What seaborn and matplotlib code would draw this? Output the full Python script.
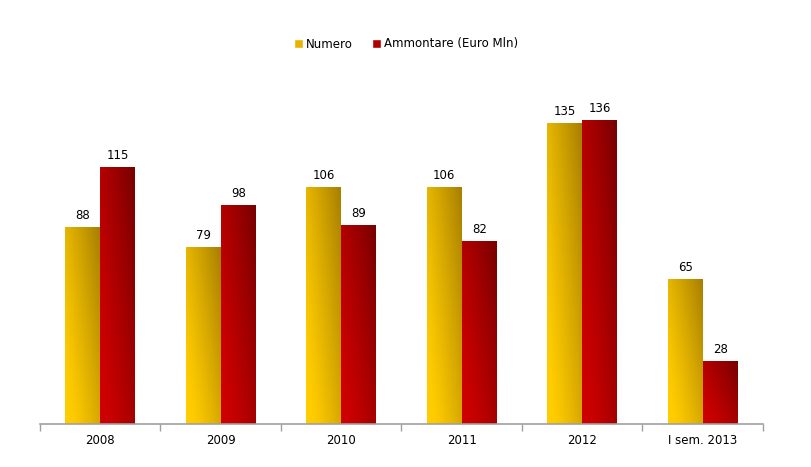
import numpy as np
import pandas as pd
import matplotlib
matplotlib.use("Agg")
import matplotlib.pyplot as plt
import seaborn as sns
from matplotlib.patches import Rectangle
from matplotlib.colors import to_rgb

categories = ["2008", "2009", "2010", "2011", "2012", "I sem. 2013"]
numero = [88, 79, 106, 106, 135, 65]
ammontare = [115, 98, 89, 82, 136, 28]
series_names = ["Numero", "Ammontare (Euro Mln)"]

sns.set_theme(style="white")
plt.rcParams['font.family'] = ['DejaVu Sans']

df = pd.DataFrame({
    "cat": categories * 2,
    "val": numero + ammontare,
    "serie": [series_names[0]] * len(categories) + [series_names[1]] * len(categories),
})

light = {series_names[0]: to_rgb("#FFCC00"), series_names[1]: to_rgb("#CC0000")}
dark = {series_names[0]: to_rgb("#A07800"), series_names[1]: to_rgb("#700000")}

fig = plt.figure(figsize=(8.12, 4.67), dpi=100)
ax = fig.add_axes([40/812, 43/467, 723/812, (424-80)/467])

sns.barplot(data=df, x="cat", y="val", hue="serie", order=categories,
            hue_order=series_names, palette=[light[s] for s in series_names],
            width=0.58, gap=0, ax=ax, legend=False, saturation=1)

# gradient fill for each bar (light bottom-left to dark top-right)
nx, ny = 40, 80
u = np.linspace(0, 1, nx)[None, :]
v = np.linspace(0, 1, ny)[:, None]
t = np.clip(0.6 * u + 0.45 * v - 0.12, 0, 1) ** 1.2
for container, s in zip(ax.containers, series_names):
    for bar in container:
        x0, y0 = bar.get_x(), bar.get_y()
        w, h = bar.get_width(), bar.get_height()
        lc, dc = np.array(light[s]), np.array(dark[s])
        img = lc[None, None, :] * (1 - t[..., None]) + dc[None, None, :] * t[..., None]
        bar.set_facecolor("none")
        bar.set_edgecolor("none")
        ax.imshow(img, extent=(x0, x0 + w, y0, y0 + h), origin="lower",
                  aspect="auto", interpolation="bilinear", zorder=2)
        ax.annotate(f"{int(round(h))}", (x0 + w / 2, y0 + h), xytext=(0, 4),
                    textcoords="offset points", ha="center", va="bottom",
                    fontsize=8.5, color="#000000")

ax.set_xlim(-0.5, len(categories) - 0.5)
ax.set_ylim(0, 154.4)

for side in ["top", "right", "left"]:
    ax.spines[side].set_visible(False)
ax.spines["bottom"].set_color("#A0A0A0")
ax.spines["bottom"].set_linewidth(1.2)
ax.set_yticks([])
ax.set_xlabel("")
ax.set_ylabel("")
ax.tick_params(axis="x", length=0, labelsize=8.5, pad=7, colors="#000000")
ax.set_xticks(range(len(categories)))
ax.set_xticklabels(categories)
ax.set_xticks(np.arange(-0.5, len(categories)), minor=True)
ax.tick_params(axis="x", which="minor", length=5, color="#A0A0A0", width=1, bottom=True)

handles = [Rectangle((0, 0), 1, 1, facecolor=c) for c in ["#E8B400", "#B00000"]]
fig.legend(handles, series_names, loc="center", bbox_to_anchor=(0.5, 1 - 44/467),
           ncol=2, frameon=False, fontsize=8.5, handlelength=0.75, handleheight=0.75,
           handletextpad=0.3, columnspacing=1.6, labelcolor="#000000")

fig.savefig("out.png", dpi=100, facecolor="white")
